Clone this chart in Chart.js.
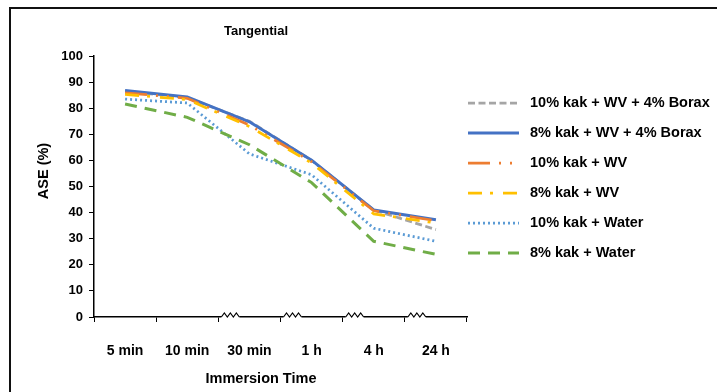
<!DOCTYPE html>
<html>
<head>
<meta charset="utf-8">
<script src="https://cdn.jsdelivr.net/npm/chart.js@4.4.0/dist/chart.umd.min.js"></script>
<style>
  html, body { margin: 0; padding: 0; background: #fff; }
  #wrap { position: relative; width: 717px; height: 392px; overflow: hidden; font-family: 'Liberation Sans', Arial, sans-serif; font-weight: bold; color: #000; }
  #frame { position: absolute; left: 9px; top: 7px; width: 800px; height: 500px; border-top: 2px solid #111; border-left: 2px solid #111; }
  canvas { position: absolute; left: 0; top: 0; }
  .txt { position: absolute; text-align: center; white-space: nowrap; }
  #chartTitle { left: 156px; top: 23px; width: 200px; line-height: 16px; font-size: 13px; }
  #xTitle { left: 161px; top: 370px; width: 200px; line-height: 16px; font-size: 14.5px; }
  #yTitle { left: -7px; top: 163px; width: 100px; line-height: 16px; font-size: 14.5px; transform: rotate(-90deg); }
  #legend { position: absolute; left: 468px; top: 88px; }
  .row { position: relative; height: 30px; }
  .row svg { position: absolute; left: 0; top: 7px; }
  .row span { position: absolute; left: 62px; top: 6px; font-size: 14.5px; line-height: 17px; white-space: nowrap; }
</style>
</head>
<body>
<div id="wrap">
  <div id="frame"></div>
  <canvas id="aseChart" width="717" height="392"></canvas>
  <div class="txt" id="chartTitle">Tangential</div>
  <div class="txt" id="yTitle">ASE (%)</div>
  <div class="txt" id="xTitle">Immersion Time</div>
  <div id="legend"></div>
</div>
<script>
// Categories and values
const timeLabels = ['5 min', '10 min', '30 min', '1 h', '4 h', '24 h'];
const yTicks = [0, 10, 20, 30, 40, 50, 60, 70, 80, 90, 100];

const kak10WvBorax = [86.5, 84.0, 75.0, 60.0, 41.0, 33.5];
const kak8WvBorax = [86.8, 84.3, 74.8, 60.1, 41.0, 37.3];
const kak10Wv = [85.9, 83.8, 73.5, 59.5, 40.7, 36.9];
const kak8Wv = [85.3, 83.3, 73.0, 59.0, 39.5, 36.0];
const kak10Water = [83.5, 82.0, 62.5, 54.5, 34.0, 29.0];
const kak8Water = [81.6, 76.5, 66.0, 51.5, 29.0, 24.0];

const seriesNames = [
    '10% kak + WV + 4% Borax',
    '8% kak + WV + 4% Borax',
    '10% kak + WV',
    '8% kak + WV',
    '10% kak + Water',
    '8% kak + Water'
];
const seriesData = [kak10WvBorax, kak8WvBorax, kak10Wv, kak8Wv, kak10Water, kak8Water];
const seriesColors = ['#a5a5a5', '#4472c4', '#ed7d31', '#ffc000', '#5b9bd5', '#70ad47'];
const seriesDash = [[7, 3.5], [], [22, 9, 2, 9, 2, 9], [14, 8, 3, 10], [2, 3], [12, 8]];
const seriesWidth = [2.75, 3, 2.75, 2.75, 2.75, 3];

Chart.defaults.font.family = "'Liberation Sans', Arial, sans-serif";
Chart.defaults.color = '#000';

const datasets = seriesNames.map((name, i) => ({
    label: name,
    data: seriesData[i],
    borderColor: seriesColors[i],
    backgroundColor: seriesColors[i],
    borderDash: seriesDash[i],
    borderWidth: seriesWidth[i],
    pointRadius: 0,
    tension: 0,
    fill: false,
    // later series drawn on top, like the original
    order: seriesNames.length - i
}));

// Axis break marks on the x axis
const axisBreaks = {
    id: 'axisBreaks',
    afterDraw(chart) {
        const x = chart.scales.x;
        const ctx = chart.ctx;
        const y = chart.chartArea.bottom;
        ctx.save();
        for (let i = 2; i < timeLabels.length; i++) {
            const bx = (x.getPixelForValue(i - 1) + x.getPixelForValue(i)) / 2;
            ctx.fillStyle = '#fff';
            ctx.fillRect(bx + 3, y - 2, 18, 3);
            ctx.beginPath();
            ctx.moveTo(bx + 3, y);
            for (let k = 1; k <= 6; k++) {
                ctx.lineTo(bx + 3 + k * 3, k % 2 ? y - 4 : y);
            }
            ctx.strokeStyle = '#000';
            ctx.lineWidth = 1.2;
            ctx.stroke();
        }
        ctx.restore();
    }
};

const chart = new Chart(document.getElementById('aseChart'), {
    type: 'line',
    data: {
        labels: timeLabels,
        datasets: datasets
    },
    options: {
        responsive: false,
        animation: false,
        layout: {
            padding: { left: 0, top: 56, right: 250, bottom: 0 }
        },
        plugins: {
            legend: { display: false },
            tooltip: { enabled: false }
        },
        scales: {
            x: {
                offset: true,
                grid: {
                    offset: true,
                    drawOnChartArea: false,
                    drawTicks: true,
                    tickLength: 5,
                    color: '#000'
                },
                border: { color: '#000', width: 1.5 },
                ticks: {
                    padding: 21,
                    font: { size: 14, weight: 'bold' }
                },
                afterFit: scale => { scale.height = 75; }
            },
            y: {
                min: 0,
                max: 100,
                afterBuildTicks: scale => { scale.ticks = yTicks.map(v => ({ value: v })); },
                grid: {
                    drawOnChartArea: false,
                    drawTicks: true,
                    tickLength: 5,
                    color: '#000'
                },
                border: { color: '#000', width: 1.5 },
                ticks: {
                    padding: 6,
                    font: { size: 13, weight: 'bold' }
                },
                afterFit: scale => { scale.width = 94; }
            }
        }
    },
    plugins: [axisBreaks]
});

// HTML legend built from the chart's datasets
const legendBox = document.getElementById('legend');
chart.data.datasets.forEach(ds => {
    const row = document.createElement('div');
    row.className = 'row';
    row.innerHTML =
        '<svg width="52" height="16"><line x1="0" y1="8" x2="51" y2="8" stroke="' + ds.borderColor +
        '" stroke-width="' + ds.borderWidth + '" stroke-dasharray="' + (ds.borderDash.length ? ds.borderDash.join(' ') : 'none') +
        '"/></svg><span>' + ds.label + '</span>';
    legendBox.appendChild(row);
});
</script>
</body>
</html>
